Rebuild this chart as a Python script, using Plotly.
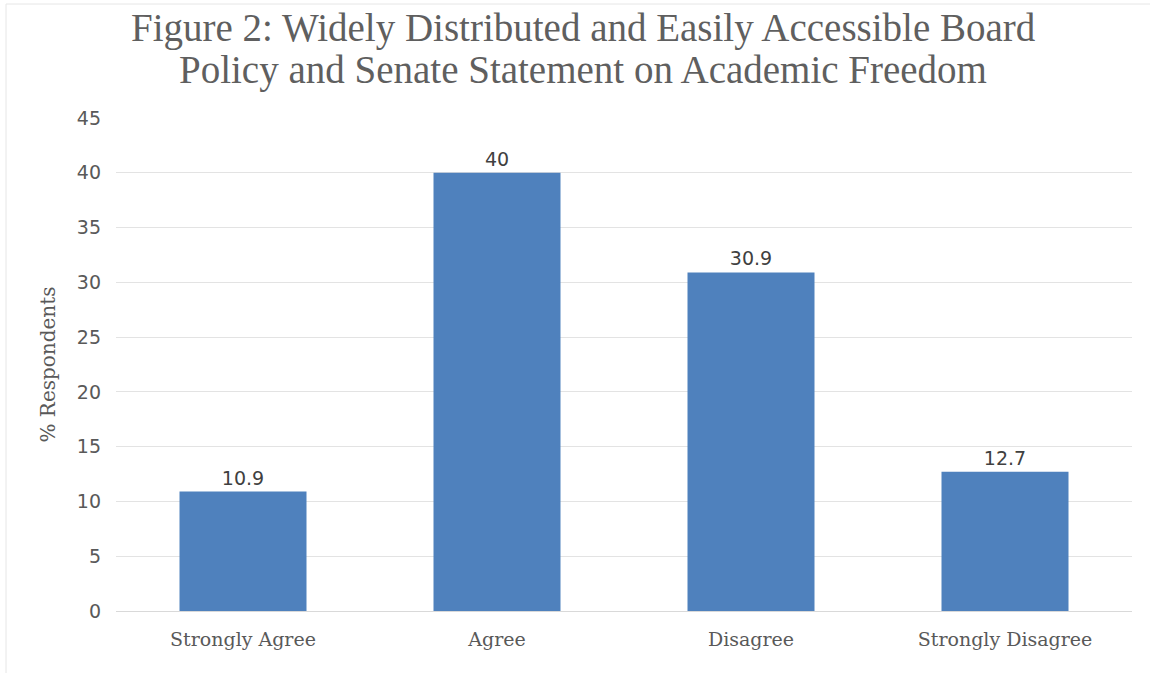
import plotly.graph_objects as go

categories = ["Strongly Agree", "Agree", "Disagree", "Strongly Disagree"]
respondents_pct = [10.9, 40, 30.9, 12.7]
value_labels = ["10.9", "40", "30.9", "12.7"]
y_ticks = [0, 5, 10, 15, 20, 25, 30, 35, 40, 45]
title_lines = [
    "Figure 2: Widely Distributed and Easily Accessible Board",
    "Policy and Senate Statement on Academic Freedom",
]

W, H = 1150, 673
ML, MR, MT, MB = 116, 18, 118, 62
pw = W - ML - MR
ph = H - MT - MB


def py(pixel_y):
    """Convert a pixel row (from top) to paper y."""
    return (H - MB - pixel_y) / ph


def px(pixel_x):
    return (pixel_x - ML) / pw


fig = go.Figure(
    go.Bar(
        x=categories,
        y=respondents_pct,
        text=value_labels,
        textposition="outside",
        textfont=dict(family="DejaVu Sans", size=19, color="#404040"),
        cliponaxis=False,
        marker=dict(color="#4f81bd", line=dict(width=0)),
        hoverinfo="x+y",
    )
)

title_font = dict(family="Liberation Serif", size=39, color="#5f5f5f")
annotations = [
    dict(
        text=line,
        xref="paper",
        yref="paper",
        x=px(583),
        y=py(cy),
        xanchor="center",
        yanchor="middle",
        showarrow=False,
        font=title_font,
    )
    for line, cy in zip(title_lines, [28, 70])
]

fig.update_layout(
    width=W,
    height=H,
    margin=dict(l=ML, r=MR, t=MT, b=MB),
    paper_bgcolor="white",
    plot_bgcolor="white",
    bargap=0.5,
    showlegend=False,
    annotations=annotations,
    xaxis=dict(
        showline=True,
        linecolor="#d9d9d9",
        linewidth=1,
        ticks="",
        tickfont=dict(family="DejaVu Serif", size=19, color="#595959"),
        ticklabelstandoff=11,
    ),
    yaxis=dict(
        range=[0, 45],
        tickvals=y_ticks,
        showgrid=True,
        gridcolor="#e3e3e3",
        gridwidth=1,
        zeroline=False,
        showline=False,
        ticks="",
        tickfont=dict(family="DejaVu Sans", size=19, color="#595959"),
        ticklabelstandoff=14,
        title=dict(
            text="% Respondents",
            font=dict(family="DejaVu Serif", size=20, color="#595959"),
            standoff=15,
        ),
    ),
    shapes=[
        dict(
            type="rect",
            xref="paper",
            yref="paper",
            x0=px(6),
            x1=px(W + 20),
            y0=py(H + 20),
            y1=py(4),
            line=dict(color="#e6e6e6", width=1),
            fillcolor="rgba(0,0,0,0)",
            layer="below",
        )
    ],
)

fig.write_html("out.html")
